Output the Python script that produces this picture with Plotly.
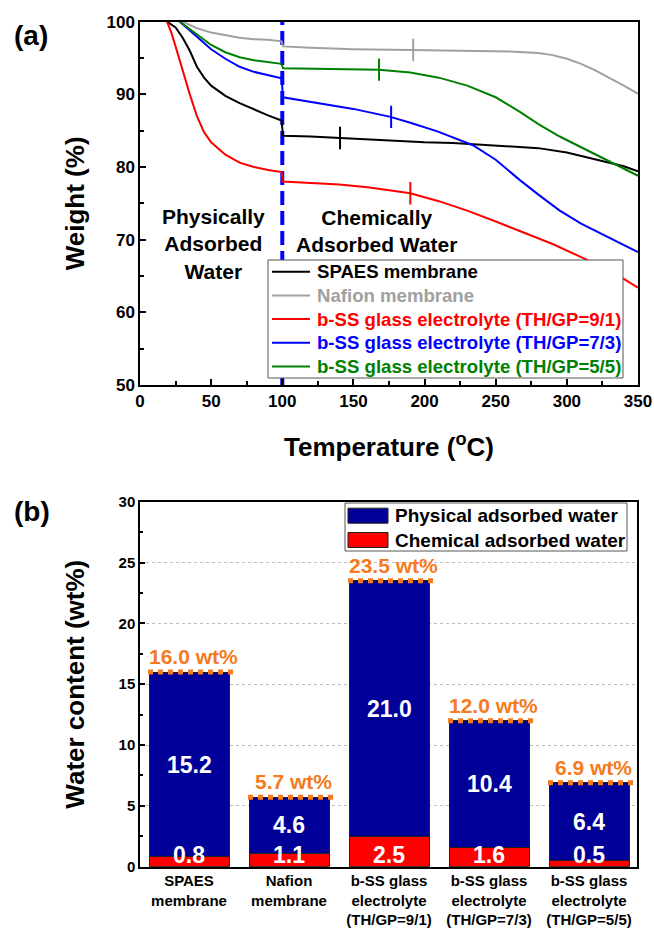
import plotly.graph_objects as go

FONT = "Liberation Sans, Arial, sans-serif"
W_PX, H_PX = 654, 929

# ---------------- (a) TGA curves ----------------
spaes_T = [19, 25, 30, 35, 40, 45, 50, 60, 70, 80, 90, 99.5, 100.5, 120, 140, 160, 180, 200, 220, 240, 260, 280, 300, 315, 330, 340, 350]
spaes_W = [100, 99.2, 97.8, 96.0, 93.8, 92.3, 91.2, 89.8, 88.8, 87.9, 87.1, 86.4, 84.3, 84.2, 84.0, 83.8, 83.6, 83.4, 83.3, 83.1, 82.9, 82.6, 82.0, 81.3, 80.6, 80.1, 79.4]

nafion_T = [30, 35, 40, 50, 60, 70, 80, 90, 99.5, 100.5, 120, 150, 190, 230, 260, 280, 290, 300, 310, 320, 330, 340, 350]
nafion_W = [100, 99.6, 99.1, 98.5, 98.1, 97.8, 97.6, 97.5, 97.3, 96.6, 96.4, 96.2, 96.1, 96.0, 95.9, 95.7, 95.4, 94.9, 94.2, 93.3, 92.3, 91.2, 90.1]

ss91_T = [19, 22, 25, 30, 35, 40, 45, 50, 55, 60, 70, 80, 90, 99.5, 100.5, 120, 140, 160, 180, 190, 210, 230, 250, 270, 290, 310, 330, 350]
ss91_W = [100, 98.5, 96.6, 93.2, 90.0, 87.0, 84.8, 83.4, 82.5, 81.7, 80.6, 80.0, 79.6, 79.3, 78.0, 77.8, 77.6, 77.2, 76.7, 76.4, 75.3, 74.0, 72.5, 71.0, 69.4, 67.6, 65.8, 63.4]

ss73_T = [28, 35, 42, 50, 60, 70, 80, 90, 99.5, 100.5, 126, 150, 176, 190, 209, 234, 250, 267, 280, 295, 310, 325, 340, 350]
ss73_W = [100, 98.8, 97.5, 96.2, 94.9, 93.8, 93.1, 92.6, 92.2, 89.6, 88.8, 88.0, 86.9, 86.1, 84.9, 83.0, 81.0, 78.2, 76.2, 74.0, 72.2, 70.7, 69.3, 68.3]

ss55_T = [28, 35, 42, 50, 60, 70, 80, 90, 99.5, 100.5, 130, 168, 190, 210, 230, 250, 267, 280, 295, 310, 325, 340, 350]
ss55_W = [100, 99.0, 97.9, 96.8, 95.8, 95.1, 94.7, 94.4, 94.2, 93.6, 93.5, 93.4, 93.0, 92.3, 91.2, 89.6, 87.6, 85.9, 84.2, 82.7, 81.2, 79.8, 78.8]

# short vertical tick marks on each curve
mark_T = [140.6, 192, 190, 176.5, 168]
mark_W = [84.0, 96.1, 76.4, 86.9, 93.4]

series_names = ["SPAES membrane", "Nafion membrane",
                "b-SS glass electrolyte (TH/GP=9/1)",
                "b-SS glass electrolyte (TH/GP=7/3)",
                "b-SS glass electrolyte (TH/GP=5/5)"]
series_colors = ["#000000", "#A0A0A0", "#FF0000", "#0000FF", "#008000"]
series_T = [spaes_T, nafion_T, ss91_T, ss73_T, ss55_T]
series_W = [spaes_W, nafion_W, ss91_W, ss73_W, ss55_W]

boundary_T = [100, 100]
boundary_W = [50, 100]

x_ticks_a = [0, 50, 100, 150, 200, 250, 300, 350]
y_ticks_a = [50, 60, 70, 80, 90, 100]

# ---------------- (b) water content bars ----------------
categories = ["SPAES<br>membrane", "Nafion<br>membrane",
              "b-SS glass<br>electrolyte<br>(TH/GP=9/1)",
              "b-SS glass<br>electrolyte<br>(TH/GP=7/3)",
              "b-SS glass<br>electrolyte<br>(TH/GP=5/5)"]
chemical = [0.8, 1.1, 2.5, 1.6, 0.5]
physical = [15.2, 4.6, 21.0, 10.4, 6.4]
total = [16.0, 5.7, 23.5, 12.0, 6.9]
y_ticks_b = [0, 5, 10, 15, 20, 25, 30]
bar_names = ["Physical adsorbed water", "Chemical adsorbed water"]
bar_colors = ["#000099", "#FF0000"]
ORANGE = "#F47B20"


def px(xp):
    return xp / W_PX


def py(yp):
    return 1 - yp / H_PX


fig = go.Figure()

# vertical dashed boundary at 100 C
fig.add_trace(go.Scatter(x=boundary_T, y=boundary_W, mode="lines",
                         line=dict(color="#0000FF", width=4, dash="14px,6px"),
                         showlegend=False, hoverinfo="skip",
                         xaxis="x", yaxis="y"))

for name, col, T, W in zip(series_names, series_colors, series_T, series_W):
    fig.add_trace(go.Scatter(
        x=T, y=W, mode="lines", name=name,
        line=dict(color=col, width=2),
        showlegend=False, xaxis="x", yaxis="y"))

for mt, mw, col in zip(mark_T, mark_W, series_colors):
    fig.add_trace(go.Scatter(
        x=[mt], y=[mw], mode="markers",
        marker=dict(symbol="line-ns", size=16, line=dict(color=col, width=2)),
        showlegend=False, hoverinfo="skip", xaxis="x", yaxis="y"))

xb = list(range(len(categories)))
fig.add_trace(go.Bar(x=xb, y=chemical, name=bar_names[1],
                     marker=dict(color=bar_colors[1], line=dict(color="#202020", width=1)),
                     width=0.8, xaxis="x2", yaxis="y2", showlegend=False))
fig.add_trace(go.Bar(x=xb, y=physical, name=bar_names[0],
                     marker=dict(color=bar_colors[0], line=dict(color="#202020", width=1)),
                     width=0.8, xaxis="x2", yaxis="y2", showlegend=False))

# dotted orange total lines
for i, t in enumerate(total):
    fig.add_trace(go.Scatter(x=[i - 0.41, i + 0.46], y=[t, t], mode="lines",
                             line=dict(color=ORANGE, width=5, dash="dot"),
                             showlegend=False, hoverinfo="skip",
                             xaxis="x2", yaxis="y2"))

annotations = []
shapes = []
for i, (c, p, t) in enumerate(zip(chemical, physical, total)):
    annotations.append(dict(x=i, y=0, xref="x2", yref="y2", text=f"<b>{c:.1f}</b>",
                            showarrow=False, yanchor="bottom", yshift=-3,
                            font=dict(family=FONT, size=23, color="white")))
    annotations.append(dict(x=i, y=c + p / 2, xref="x2", yref="y2", text=f"<b>{p:.1f}</b>",
                            showarrow=False, yanchor="middle",
                            font=dict(family=FONT, size=23, color="white")))
    annotations.append(dict(x=i + 0.04, y=t, xref="x2", yref="y2", text=f"<b>{t:.1f} wt%</b>",
                            showarrow=False, yanchor="bottom", yshift=2,
                            font=dict(family=FONT, size=21, color=ORANGE)))

annotations += [
    dict(x=px(12), y=py(36), xref="paper", yref="paper", text="<b>(a)</b>",
         xanchor="left", yanchor="middle",
         showarrow=False, font=dict(family=FONT, size=28, color="black")),
    dict(x=px(12), y=py(512), xref="paper", yref="paper", text="<b>(b)</b>",
         xanchor="left", yanchor="middle",
         showarrow=False, font=dict(family=FONT, size=28, color="black")),
    dict(x=52, y=69.4, xref="x", yref="y", text="<b>Physically<br>Adsorbed<br>Water</b>",
         showarrow=False, yanchor="middle",
         font=dict(family=FONT, size=21, color="black")),
    dict(x=166, y=71.2, xref="x", yref="y", text="<b>Chemically<br>Adsorbed Water</b>",
         showarrow=False, yanchor="middle",
         font=dict(family=FONT, size=21, color="black")),
]

# legend (a): box, line samples, coloured labels
shapes.append(dict(type="rect", xref="paper", yref="paper",
                   x0=px(268), x1=px(623), y0=py(378), y1=py(260),
                   fillcolor="white", line=dict(color="#555555", width=1), layer="above"))
for k, (name, col) in enumerate(zip(series_names, series_colors)):
    yc = 271.7 + k * 23.7
    shapes.append(dict(type="line", xref="paper", yref="paper",
                       x0=px(272), x1=px(310), y0=py(yc), y1=py(yc),
                       line=dict(color=col, width=2), layer="above"))
    annotations.append(dict(x=px(315), y=py(yc), xref="paper", yref="paper",
                            text=f"<b>{name}</b>", showarrow=False,
                            xanchor="left", yanchor="middle",
                            font=dict(family=FONT, size=18.6, color=col)))

# legend (b): box, swatches, labels
shapes.append(dict(type="rect", xref="paper", yref="paper",
                   x0=px(345), x1=px(627), y0=py(551), y1=py(503),
                   fillcolor="white", line=dict(color="#555555", width=1), layer="above"))
for k, (name, col) in enumerate(zip(bar_names, bar_colors)):
    yc = 515.7 + k * 24.3
    shapes.append(dict(type="rect", xref="paper", yref="paper",
                       x0=px(348), x1=px(388), y0=py(yc + 7.5), y1=py(yc - 7.5),
                       fillcolor=col, line=dict(color="#202020", width=1), layer="above"))
    annotations.append(dict(x=px(393), y=py(yc), xref="paper", yref="paper",
                            text=f"<b>{name}</b>", showarrow=False,
                            xanchor="left", yanchor="middle",
                            font=dict(family=FONT, size=19, color="black")))

axis_common = dict(showline=True, linecolor="black", linewidth=1.5, mirror=True,
                   ticks="inside", tickcolor="black", tickwidth=1.5, zeroline=False,
                   automargin=False)

fig.update_layout(
    width=W_PX, height=H_PX,
    margin=dict(l=0, r=0, t=0, b=0, pad=0, autoexpand=False),
    paper_bgcolor="white", plot_bgcolor="white",
    font=dict(family=FONT, color="black"),
    barmode="stack",
    showlegend=False,
    xaxis=dict(domain=[px(140), px(638)], anchor="y", range=[0, 350],
               tickvals=x_ticks_a, ticklen=6,
               minor=dict(dtick=25, ticks="inside", ticklen=4, tickcolor="black"),
               showgrid=False,
               tickfont=dict(family=FONT, size=17, color="black", weight="bold"),
               title=dict(text="<b>Temperature (<sup>o</sup>C)</b>", standoff=28,
                          font=dict(family=FONT, size=26, color="black")),
               **axis_common),
    yaxis=dict(domain=[py(385), py(21.7)], anchor="x", range=[50, 100],
               tickvals=y_ticks_a, ticklen=6,
               minor=dict(dtick=5, ticks="inside", ticklen=4, tickcolor="black"),
               showgrid=False,
               tickfont=dict(family=FONT, size=17, color="black", weight="bold"),
               title=dict(text="<b>Weight (%)</b>", standoff=14,
                          font=dict(family=FONT, size=26, color="black")),
               **axis_common),
    xaxis2=dict(domain=[px(140), px(637)], anchor="y2", range=[-0.49, 4.48],
                tickvals=xb, ticktext=[f"<b>{c}</b>" for c in categories],
                showgrid=False, showline=True, linecolor="black", linewidth=1.5,
                mirror=True, ticks="", zeroline=False, automargin=False,
                tickfont=dict(family=FONT, size=15, color="black")),
    yaxis2=dict(domain=[py(866.7), py(501.7)], anchor="x2", range=[0, 30],
                tickvals=y_ticks_b, ticklen=5,
                minor=dict(dtick=2.5, ticks="inside", ticklen=3, tickcolor="black"),
                showgrid=True, gridcolor="#BBBBBB", griddash="dot", gridwidth=1,
                tickfont=dict(family=FONT, size=15, color="black", weight="bold"),
                title=dict(text="<b>Water content (wt%)</b>", standoff=26,
                           font=dict(family=FONT, size=26, color="black")),
                **axis_common),
    annotations=annotations,
    shapes=shapes,
)

fig.write_html("out.html", config={"displayModeBar": False},
               post_script="document.body.style.margin='0';document.body.style.overflow='hidden';")
